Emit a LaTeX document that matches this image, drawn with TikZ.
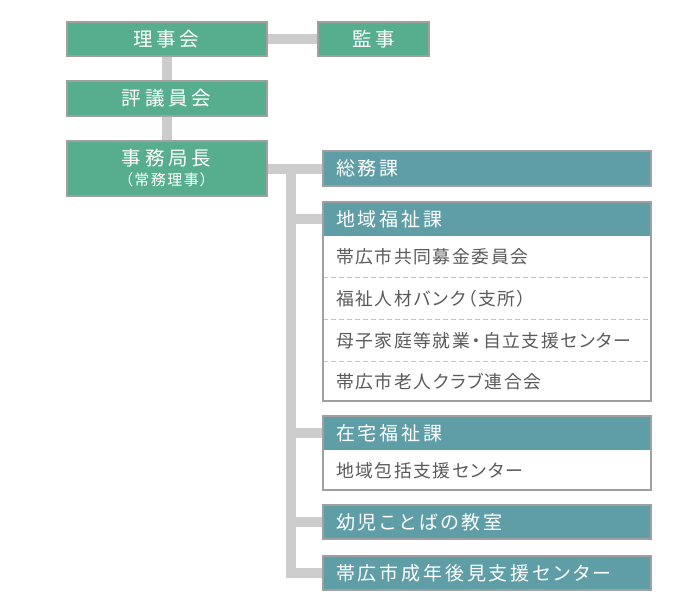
\documentclass[tikz,border=0pt]{standalone}
\usepackage{fontspec}
\newfontfamily\jptop{Noto Sans CJK JP}[LetterSpace=19]
\newfontfamily\jpsub{Noto Sans CJK JP}[LetterSpace=10,RawFeature=+palt]
\newfontfamily\jphead{Noto Sans CJK JP}[LetterSpace=15,RawFeature=+palt]
\newfontfamily\jprow{Noto Sans CJK JP}[LetterSpace=9,RawFeature=+palt]
\usepackage{tikz}
\usetikzlibrary{positioning}
\definecolor{boardgreen}{HTML}{57AE8E}
\definecolor{deptteal}{HTML}{5F9EA6}
\definecolor{boxedge}{HTML}{A0A0A0}
\definecolor{linkgray}{HTML}{CCCCCC}
\definecolor{rowtext}{HTML}{5A5A5A}
\definecolor{rowdash}{HTML}{C4C4C4}
\pgfdeclarelayer{back}
\pgfsetlayers{back,main}
\tikzstyle{Board} = [
draw=boxedge, line width=2pt, fill=boardgreen, text=white,
minimum width=200pt, minimum height=34pt, inner sep=0pt,
align=center, font=\jptop\fontsize{19.5}{20}\selectfont
]
\tikzstyle{Dept} = [
fill=deptteal, text=white, minimum width=328pt, minimum height=34pt,
inner xsep=13pt, inner ysep=0pt, text width=302pt, align=left,
font=\jphead\fontsize{19}{20}\selectfont
]
\tikzstyle{Row} = [
text=rowtext, minimum width=328pt, minimum height=41.25pt,
inner xsep=13pt, inner ysep=0pt, text width=302pt, align=left,
font=\jprow\fontsize{17.8}{18}\selectfont
]
\tikzstyle{Frame} = [draw=boxedge, line width=2pt]
\tikzstyle{Sep} = [draw=rowdash, line width=1pt, dash pattern=on 5pt off 3pt]
\tikzstyle{Link} = [draw=linkgray, line width=10pt]

\begin{document}
\begin{tikzpicture}[x=1pt, y=-1pt]
   \useasboundingbox (0,0) rectangle (700,615);
   % board side
   \node [Board] (riji) at (166.5,39) {理事会};
   \node [Board, minimum width=111pt] (kanji) at (373.5,39) {監事};
   \node [Board, minimum height=35pt] (hyogi) at (166.5,98.5) {評議員会};
   \node [Board, minimum height=55pt] (jimu) at (166.5,168.5) {事務局長\\{\jpsub\fontsize{15}{16}\selectfont （常務理事）}};

   % departments
   \node [Dept, draw=boxedge, line width=2pt, minimum height=35pt] (somu) at (487,168.5) {総務課};

   \node [minimum width=328pt, minimum height=199pt, inner sep=0pt, fill=white] (chiiki) at (487,301.5) {};
   \node [Dept, anchor=north] (chiikih) at (chiiki.north) {地域福祉課};
   \node [Row, below=0pt of chiikih] (c1) {帯広市共同募金委員会};
   \node [Row, below=0pt of c1] (c2) {福祉人材バンク（支所）};
   \node [Row, below=0pt of c2] (c3) {母子家庭等就業\kern2pt・\kern2pt 自立支援センター};
   \node [Row, below=0pt of c3] (c4) {帯広市老人クラブ連合会};
   \draw [Sep] (c1.south west) -- (c1.south east);
   \draw [Sep] (c2.south west) -- (c2.south east);
   \draw [Sep] (c3.south west) -- (c3.south east);
   \draw [Frame] (chiiki.north west) rectangle (chiiki.south east);

   \node [minimum width=328pt, minimum height=74pt, inner sep=0pt, fill=white] (zaitaku) at (487,453) {};
   \node [Dept, anchor=north] (zaitakuh) at (zaitaku.north) {在宅福祉課};
   \node [Row, minimum height=40pt, below=0pt of zaitakuh] (z1) {地域包括支援センター};
   \draw [Frame] (zaitaku.north west) rectangle (zaitaku.south east);

   \node [Dept, draw=boxedge, line width=2pt] (yoji) at (487,522) {幼児ことばの教室};
   \node [Dept, draw=boxedge, line width=2pt] (koken) at (487,573) {帯広市成年後見支援センター};

   % connectors
   \begin{pgfonlayer}{back}
   \coordinate (trunk) at (290.7,168.5);
   \draw [Link] (riji.east) -- (kanji.west);
   \draw [Link] (riji.south) -- (hyogi.north);
   \draw [Link] (hyogi.south) -- (jimu.north);
   \draw [Link] (jimu.east) -- (somu.west);
   \draw [Link] (trunk) |- (koken.west);
   \draw [Link] (trunk |- chiikih.west) -- (chiikih.west);
   \draw [Link] (trunk |- zaitakuh.west) -- (zaitakuh.west);
   \draw [Link] (trunk |- yoji.west) -- (yoji.west);
   \end{pgfonlayer}
\end{tikzpicture}
\end{document}
